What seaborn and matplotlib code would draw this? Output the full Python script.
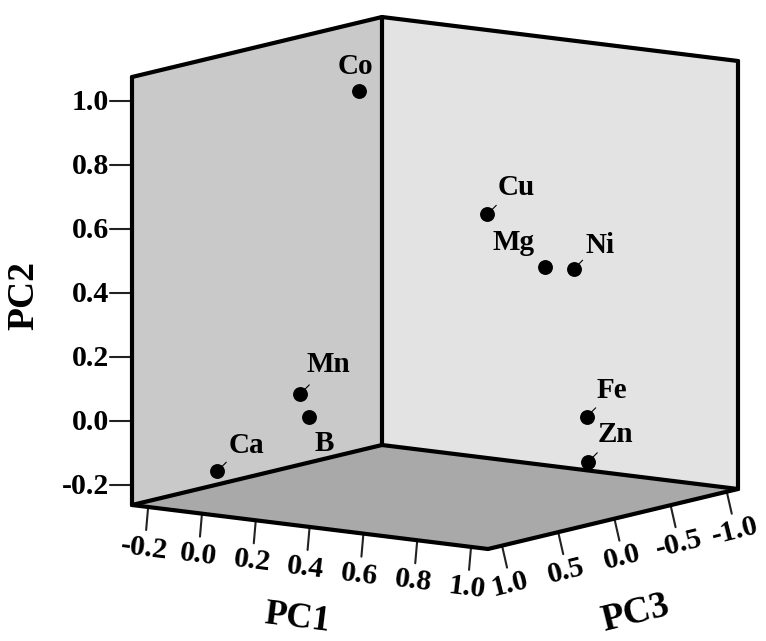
import matplotlib
matplotlib.use('Agg')
import matplotlib.pyplot as plt
from matplotlib.patches import Polygon
import numpy as np
import seaborn as sns

# Loadings
elements = ['Co', 'Cu', 'Mg', 'Ni', 'Mn', 'B', 'Ca', 'Fe', 'Zn']
pc1 = [0.05, 0.55, 0.70, 0.75, 0.00, 0.05, -0.10, 0.95, 0.90]
pc2 = [0.957, 0.627, 0.466, 0.452, 0.038, -0.026, -0.172, 0.042, -0.115]
pc3 = [-0.156, -0.097, -0.252, -0.387, 0.250, 0.295, 0.749, -0.024, -0.158]

pc1_ticks = [-0.2, 0.0, 0.2, 0.4, 0.6, 0.8, 1.0]
pc2_ticks = [-0.2, 0.0, 0.2, 0.4, 0.6, 0.8, 1.0]
pc3_ticks = [1.0, 0.5, 0.0, -0.5, -1.0]

# Axis limits of the box
pc1_lim = (-0.26, 1.063)
pc2_lim = (-0.2625, 1.075)
pc3_lim = (-1.10, 1.125)

# Label offsets from the dot in pixels, and which dots carry a small stub
label_offsets = [(-4, -24), (29, -27), (-32, -24), (26, -24), (28, -29),
                 (16, 26), (29, -26), (25, -26), (27, -27)]
has_stub = [False, True, False, True, True, False, True, True, True]


def project(a, b, c):
    # Axonometric projection of the box on to image pixels
    u = (np.asarray(a) - pc1_lim[0]) / (pc1_lim[1] - pc1_lim[0])
    v = (pc3_lim[1] - np.asarray(c)) / (pc3_lim[1] - pc3_lim[0])
    w = (np.asarray(b) - pc2_lim[0]) / (pc2_lim[1] - pc2_lim[0])
    return 132 + 356 * u + 250 * v, 505 + 44 * u - 60 * v - 428 * w


sns.set_style('white')
fig = plt.figure(figsize=(7.66, 6.41), dpi=100)
ax = fig.add_axes([0, 0, 1, 1])

font = dict(family='Liberation Serif', weight='bold', color='black')

x1, x2 = pc1_lim
y1, y2 = pc2_lim
z1, z2 = pc3_lim

left_b = project(x1, y1, z2)
back_b = project(x1, y1, z1)
right_b = project(x2, y1, z1)
front_b = project(x2, y1, z2)
left_t = project(x1, y2, z2)
back_t = project(x1, y2, z1)
right_t = project(x2, y2, z1)

ax.add_patch(Polygon([left_b, back_b, back_t, left_t], color='#c9c9c9', lw=0))
ax.add_patch(Polygon([back_b, right_b, right_t, back_t], color='#e3e3e3', lw=0))
ax.add_patch(Polygon([left_b, back_b, right_b, front_b], color='#a9a9a9', lw=0))

# Box edges
for p, q in [(left_b, left_t), (back_b, back_t), (right_b, right_t), (left_t, back_t),
             (back_t, right_t), (left_b, back_b), (back_b, right_b),
             (left_b, front_b), (front_b, right_b)]:
    ax.plot([p[0], q[0]], [p[1], q[1]], color='black', lw=3, solid_capstyle='round', zorder=3)

# Ticks and tick labels
for t in pc2_ticks:
    px, py = project(x1, t, z2)
    ax.plot([px - 22, px], [py, py], color='#222222', lw=1.5, zorder=2)
    ax.text(px - 23, py + 2, f'{t:.1f}', ha='right', va='center', fontsize=21.5, **font)

for t in pc1_ticks:
    px, py = project(t, y1, z2)
    ax.plot([px, px - 2], [py, py + 23], color='#222222', lw=1.5, zorder=2)
    ax.text(px - 4, py + 41, f'{t:.1f}', ha='center', va='center', fontsize=21.5,
            rotation=-7, rotation_mode='anchor', **font)

for t in pc3_ticks:
    px, py = project(x2, y1, t)
    ax.plot([px, px + 5], [py, py + 22], color='#222222', lw=1.5, zorder=2)
    ax.text(px + 8, py + 39, f'{t:.1f}', ha='center', va='center', fontsize=21.5,
            rotation=14, rotation_mode='anchor', **font)

# The points
px, py = project(pc1, pc2, pc3)
sns.scatterplot(x=px, y=py, color='black', s=115, linewidth=0, legend=False, ax=ax, zorder=5)

for name, dx, dy, off, stub in zip(elements, px, py, label_offsets, has_stub):
    if stub:
        ax.plot([dx, dx + 9], [dy, dy - 9], color='black', lw=0.8, zorder=4)
    ax.text(dx + off[0], dy + off[1], name, ha='center', va='center', fontsize=21, **font)

# Axis titles
ax.text(297, 619, 'PC1', ha='center', va='center', fontsize=26, rotation=-7, **font)
ax.text(24, 295, 'PC2', ha='center', va='center', fontsize=27, rotation=90, **font)
ax.text(635, 613, 'PC3', ha='center', va='center', fontsize=27, rotation=14, **font)

ax.set_xlim(0, 766)
ax.set_ylim(641, 0)
ax.axis('off')

fig.savefig('out.png', dpi=100)
